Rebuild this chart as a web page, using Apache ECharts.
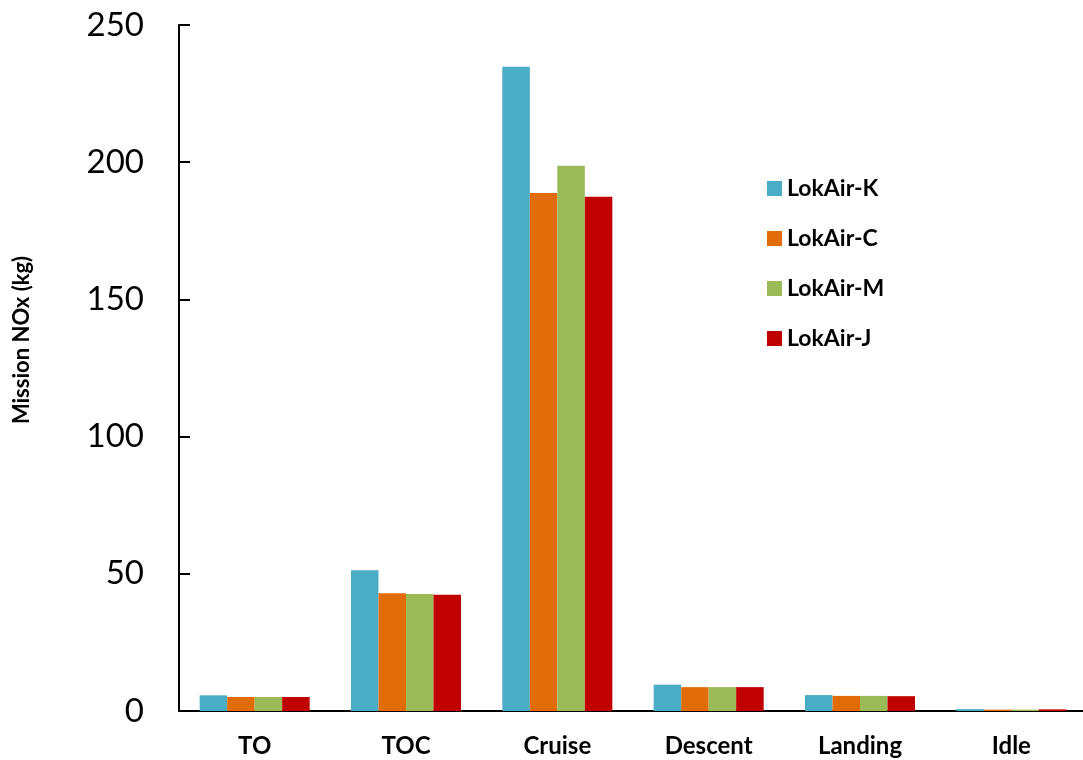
<!DOCTYPE html>
<html>
<head>
<meta charset="utf-8">
<script src="https://cdn.jsdelivr.net/npm/echarts@6/dist/echarts.min.js"></script>
<style>
  html, body { margin: 0; padding: 0; background: #fff; }
  #chart { width: 1083px; height: 760px; }
</style>
</head>
<body>
<div id="chart"></div>
<script>
// Mission NOx per flight phase for each LokAir engine variant
const phases = ['TO', 'TOC', 'Cruise', 'Descent', 'Landing', 'Idle'];
const seriesNames = ['LokAir-K', 'LokAir-C', 'LokAir-M', 'LokAir-J'];
const lokairK = [5.7, 51.3, 234.8, 9.6, 5.8, 0.7];
const lokairC = [5.1, 42.9, 188.8, 8.7, 5.5, 0.5];
const lokairM = [5.1, 42.6, 198.7, 8.7, 5.5, 0.5];
const lokairJ = [5.1, 42.4, 187.4, 8.7, 5.4, 0.6];
const yTicks = [0, 50, 100, 150, 200, 250];

const colors = ['#4BACC6', '#E36C0A', '#9BBB59', '#C00000'];
const values = [lokairK, lokairC, lokairM, lokairJ];
const font = 'Lato, "Open Sans", "DejaVu Sans", sans-serif';

const chart = echarts.init(document.getElementById('chart'), null, { renderer: 'canvas' });

chart.setOption({
  backgroundColor: '#ffffff',
  animation: false,
  color: colors,
  grid: {
    left: 179,
    top: 25,
    width: 908,
    bottom: 49,
    containLabel: false,
    outerBoundsMode: 'none'
  },
  legend: {
    orient: 'vertical',
    left: 762,
    top: 172,
    itemWidth: 15,
    itemHeight: 15,
    itemGap: 27,
    icon: 'rect',
    data: seriesNames,
    textStyle: {
      fontFamily: font,
      fontWeight: 'bold',
      fontSize: 23,
      color: '#000'
    }
  },
  graphic: [{
    type: 'text',
    x: 22,
    y: 340,
    rotation: Math.PI / 2,
    style: {
      text: 'Mission NOx (kg)',
      fontFamily: font,
      fontWeight: 'bold',
      fontSize: 22,
      fill: '#000',
      align: 'center',
      verticalAlign: 'middle'
    }
  }],
  xAxis: {
    type: 'category',
    data: phases,
    axisLine: { lineStyle: { color: '#000', width: 2 } },
    axisTick: { show: false },
    axisLabel: {
      margin: 23,
      fontFamily: font,
      fontWeight: 'bold',
      fontSize: 24,
      color: '#000'
    }
  },
  yAxis: {
    type: 'value',
    min: yTicks[0],
    max: yTicks[yTicks.length - 1],
    interval: yTicks[1] - yTicks[0],
    axisLine: { show: true, lineStyle: { color: '#000', width: 2 } },
    axisTick: { show: true, inside: true, length: 11, lineStyle: { color: '#000', width: 2 } },
    splitLine: { show: false },
    axisLabel: {
      margin: 35,
      fontFamily: font,
      fontSize: 33,
      color: '#000'
    }
  },
  series: seriesNames.map((name, i) => ({
    name: name,
    type: 'bar',
    data: values[i],
    barGap: '0%',
    barCategoryGap: '27.3%',
    itemStyle: { color: colors[i] }
  }))
});
</script>
</body>
</html>
